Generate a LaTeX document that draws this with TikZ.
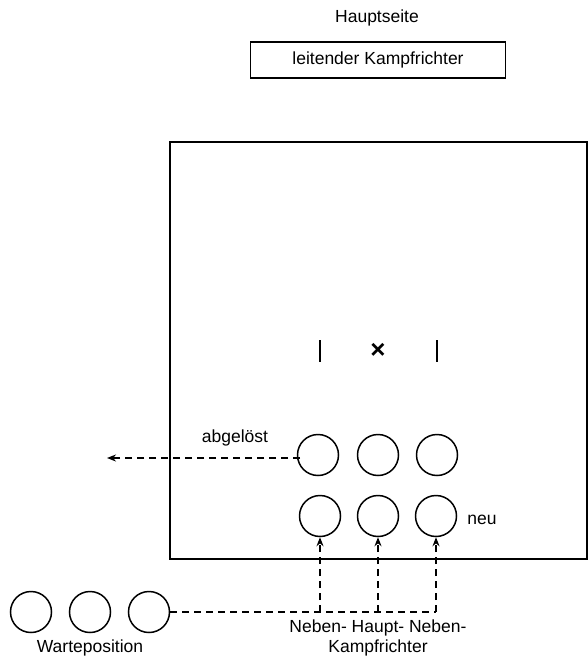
\documentclass[tikz,border=0pt]{standalone}
\usepackage{fontspec}
\setmainfont{Liberation Sans}
\usetikzlibrary{arrows.meta}
\begin{document}
\begin{tikzpicture}[x=1pt,y=-1pt,
  lbl/.style={font=\fontsize{17.5}{20}\selectfont, inner sep=0pt},
  judge/.style={draw, circle, minimum size=41pt, inner sep=0pt, line width=1.5pt},
  dline/.style={dashed, dash pattern=on 7pt off 5pt, line width=1.7pt},
  darrow/.style={dline, -{Stealth[length=9pt,width=7pt]}},
  tickbar/.style={line width=2.8pt}]
\useasboundingbox (0,0) rectangle (588,658);
\node[lbl] (haupt) at (377,18) {Hauptseite};
\node[draw, line width=1.5pt, minimum width=255pt, minimum height=36pt, lbl] (leit) at (378,60) {leitender Kampfrichter};
\draw[line width=2.2pt] (170,142) rectangle (587,559);
\coordinate (b1t) at (320,340); \coordinate (b1b) at (320,362);
\coordinate (b2t) at (437,340); \coordinate (b2b) at (437,362);
\draw[tickbar] (b1t) -- (b1b);
\draw[tickbar] (b2t) -- (b2b);
\node[lbl, font=\fontsize{26}{28}\selectfont\bfseries] (x) at (378,351) {×};
\node[judge] (t1) at (318,455) {};
\node[judge] (t2) at (378,455) {};
\node[judge] (t3) at (437,455) {};
\node[judge] (n1) at (320,516) {};
\node[judge] (n2) at (378,516) {};
\node[judge] (n3) at (436,516) {};
\node[lbl] (neu) at (482,520) {neu};
\node[lbl] (abg) at (235,438) {abgelöst};
\coordinate (out) at (107,458);
\coordinate (tin) at (300,458);
\draw[darrow] (tin) -- (out);
\node[judge] (w1) at (31,612) {};
\node[judge] (w2) at (90,612) {};
\node[judge] (w3) at (149,612) {};
\coordinate (c1) at (320,612);
\coordinate (c2) at (378,612);
\coordinate (c3) at (436,612);
\draw[dline] (w3) -- (c3);
\draw[darrow] (c1) -- (n1.south);
\draw[darrow] (c2) -- (n2.south);
\draw[darrow] (c3) -- (n3.south);
\node[lbl] (nhn) at (378,628) {Neben- Haupt- Neben-};
\node[lbl] (kr) at (378,648) {Kampfrichter};
\node[lbl] (wp) at (90,648) {Warteposition};
\end{tikzpicture}
\end{document}
